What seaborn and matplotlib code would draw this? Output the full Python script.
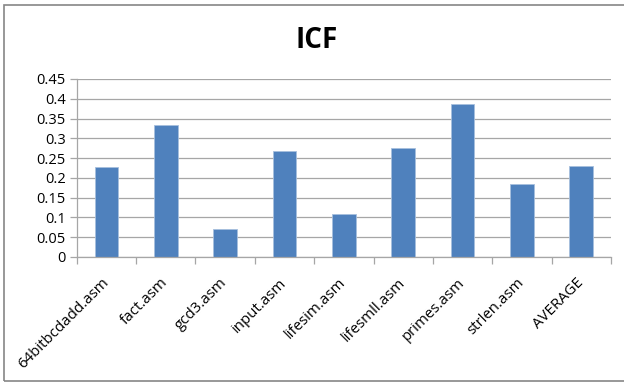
import matplotlib
matplotlib.use("Agg")
import matplotlib.pyplot as plt
import seaborn as sns
import pandas as pd
import numpy as np
from matplotlib.patches import Rectangle

categories = ["64bitbcdadd.asm", "fact.asm", "gcd3.asm", "input.asm", "lifesim.asm",
              "lifesmll.asm", "primes.asm", "strlen.asm", "AVERAGE"]
icf_values = [0.227, 0.334, 0.070, 0.269, 0.108, 0.276, 0.387, 0.185, 0.230]
y_ticks = [0, 0.05, 0.1, 0.15, 0.2, 0.25, 0.3, 0.35, 0.4, 0.45]
y_tick_labels = ["0", "0.05", "0.1", "0.15", "0.2", "0.25", "0.3", "0.35", "0.4", "0.45"]

sns.set_theme(style="white")
plt.rcParams['font.family'] = ['Open Sans', 'DejaVu Sans']

df = pd.DataFrame({"program": categories, "icf": icf_values})

fig = plt.figure(figsize=(6.24, 3.83), dpi=100)
ax = fig.add_axes([76.7 / 624, 1 - 257 / 383, (611 - 76.7) / 624, (257 - 79) / 383])

sns.barplot(data=df, x="program", y="icf", color="#4F81BD", width=0.4,
            saturation=1, ax=ax, edgecolor="#A7BFDE", linewidth=0.6)

ax.set_ylim(0, 0.45)
ax.set_xlim(-0.5, len(categories) - 0.5)
ax.set_yticks(y_ticks)
ax.set_yticklabels(y_tick_labels, fontsize=10.5)
ax.yaxis.grid(True, color="#A6A6A6", linewidth=0.9)
ax.set_axisbelow(True)
ax.set_xlabel("")
ax.set_ylabel("")

for s in ["top", "right"]:
    ax.spines[s].set_visible(False)
for s in ["left", "bottom"]:
    ax.spines[s].set_visible(True)
    ax.spines[s].set_color("#A6A6A6")
    ax.spines[s].set_linewidth(0.9)

ax.tick_params(axis="y", which="major", left=True, length=5, width=0.9,
               color="#A6A6A6", pad=3, labelcolor="black")
ax.set_xticks(range(len(categories)))
ax.set_xticklabels(categories, rotation=45, ha="right", va="center",
                   rotation_mode="anchor", fontsize=10.8, color="black")
ax.tick_params(axis="x", which="major", bottom=False, length=0, pad=17)
ax.set_xticks(np.arange(-0.5, len(categories), 1.0), minor=True)
ax.tick_params(axis="x", which="minor", bottom=True, length=5, width=0.9,
               color="#A6A6A6")

fig.text(317 / 624, 1 - 41 / 383, "ICF", ha="center", va="center",
         fontsize=20, fontweight="bold", color="black")

fig.patches.append(Rectangle((4 / 624, 1 - 381 / 383), 630 / 624, (381 - 5) / 383,
                             transform=fig.transFigure, fill=False,
                             edgecolor="#868686", linewidth=1.2))

fig.savefig("out.png", dpi=100)
